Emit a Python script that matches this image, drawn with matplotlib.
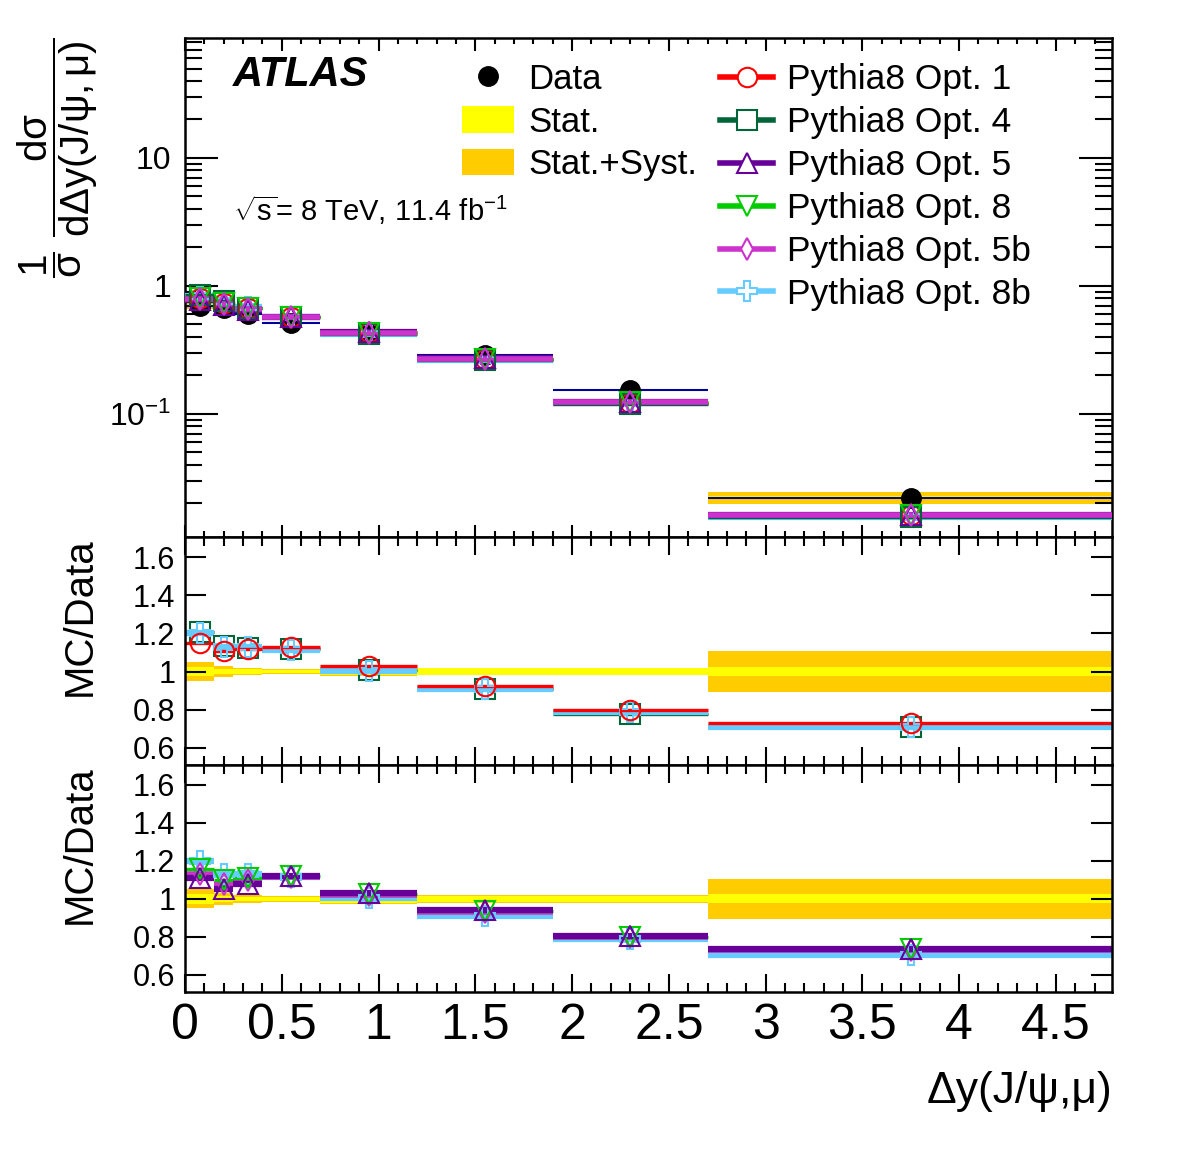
import numpy as np
import matplotlib
matplotlib.use("Agg")
import matplotlib.pyplot as plt
from matplotlib.lines import Line2D
from matplotlib.patches import Patch
from matplotlib.ticker import FixedLocator, FuncFormatter, NullFormatter, MultipleLocator

plt.rcParams['font.family'] = ['Liberation Sans', 'DejaVu Sans']
plt.rcParams['mathtext.fontset'] = 'custom'
plt.rcParams['mathtext.rm'] = 'Liberation Sans'
plt.rcParams['mathtext.it'] = 'Liberation Sans'
plt.rcParams['mathtext.sf'] = 'Liberation Sans'
plt.rcParams['mathtext.bf'] = 'Liberation Sans:bold'

# ---------------- data ----------------
edges = [0.0, 0.15, 0.25, 0.4, 0.7, 1.2, 1.9, 2.7, 4.8]
data = [0.70, 0.67, 0.60, 0.51, 0.42, 0.289, 0.154, 0.0221]
stat_rel = [0.025, 0.015, 0.012, 0.010, 0.020, 0.017, 0.017, 0.024]
tot_rel = [0.050, 0.030, 0.020, 0.015, 0.025, 0.020, 0.020, 0.105]

ratio_opt1 = [1.150, 1.105, 1.120, 1.130, 1.030, 0.926, 0.796, 0.728]
ratio_opt4 = [1.205, 1.135, 1.125, 1.120, 1.010, 0.910, 0.775, 0.710]
ratio_opt5 = [1.110, 1.050, 1.080, 1.120, 1.030, 0.940, 0.806, 0.737]
ratio_opt8 = [1.155, 1.100, 1.110, 1.120, 1.025, 0.935, 0.800, 0.735]
ratio_opt5b = [1.130, 1.080, 1.100, 1.115, 1.020, 0.930, 0.800, 0.730]
ratio_opt8b = [1.200, 1.130, 1.130, 1.115, 1.005, 0.910, 0.790, 0.707]

labels = ["Pythia8 Opt. 1", "Pythia8 Opt. 4", "Pythia8 Opt. 5",
          "Pythia8 Opt. 8", "Pythia8 Opt. 5b", "Pythia8 Opt. 8b"]

# ---------------- styles ----------------
C_RED = '#ff0000'
C_DGREEN = '#00663a'
C_PURPLE = '#660099'
C_GREEN = '#00cc00'
C_MAGENTA = '#cc33cc'
C_LBLUE = '#66ccff'
C_YELLOW = '#ffff00'
C_ORANGE = '#ffcc00'
C_NAVY = '#000099'

models = {
    "Pythia8 Opt. 1": dict(r=ratio_opt1, c=C_RED, m='o', ms=14, lw=2.4),
    "Pythia8 Opt. 4": dict(r=ratio_opt4, c=C_DGREEN, m='s', ms=14, lw=2.4),
    "Pythia8 Opt. 5": dict(r=ratio_opt5, c=C_PURPLE, m='^', ms=15, lw=4.5),
    "Pythia8 Opt. 8": dict(r=ratio_opt8, c=C_GREEN, m='v', ms=15, lw=2.4),
    "Pythia8 Opt. 5b": dict(r=ratio_opt5b, c=C_MAGENTA, m='d', ms=11, lw=4.0),
    "Pythia8 Opt. 8b": dict(r=ratio_opt8b, c=C_LBLUE, m='P', ms=14, lw=4.5),
}

edges_a = np.array(edges)
lo = edges_a[:-1]
hi = edges_a[1:]
widths = hi - lo
centers = 0.5 * (lo + hi)
data_a = np.array(data)
stat_a = np.array(stat_rel)
tot_a = np.array(tot_rel)

fig = plt.figure(figsize=(11.82, 11.53), dpi=100)
L, R = 185 / 1182, 1112 / 1182
def fy(p):
    return 1 - p / 1153
ax0 = fig.add_axes([L, fy(537), R - L, fy(38) - fy(537)])
ax1 = fig.add_axes([L, fy(765), R - L, fy(537) - fy(765)], sharex=ax0)
ax2 = fig.add_axes([L, fy(992), R - L, fy(765) - fy(992)], sharex=ax0)

# ---------------- top panel ----------------
ax0.set_yscale('log')
ax0.bar(lo, 2 * tot_a * data_a, width=widths, bottom=data_a * (1 - tot_a),
        align='edge', color=C_ORANGE, lw=0, zorder=1)
ax0.bar(lo, 2 * stat_a * data_a, width=widths, bottom=data_a * (1 - stat_a),
        align='edge', color=C_YELLOW, lw=0, zorder=1.1)
ax0.hlines(data_a, lo, hi, color=C_NAVY, lw=1.5, zorder=2)
ax0.errorbar(centers, data_a, yerr=data_a * stat_a, fmt='o', color='black',
             ms=14, elinewidth=1.5, capsize=0, zorder=3)

top_order = ["Pythia8 Opt. 8b", "Pythia8 Opt. 1", "Pythia8 Opt. 4",
             "Pythia8 Opt. 5", "Pythia8 Opt. 8", "Pythia8 Opt. 5b"]
for k, name in enumerate(top_order):
    st = models[name]
    mc = data_a * np.array(st['r'])
    ax0.hlines(mc, lo, hi, color=st['c'], lw=st['lw'], zorder=4 + k * 0.1)
for k, name in enumerate(top_order):
    st = models[name]
    mc = data_a * np.array(st['r'])
    ax0.plot(centers, mc, ls='none', marker=st['m'], ms=st['ms'], mfc='none',
             mec=st['c'], mew=1.5, zorder=5 + k * 0.1)

ax0.set_xlim(0, 4.79)
ax0.set_ylim(0.0109, 86.6)
ax0.yaxis.set_major_locator(FixedLocator([0.1, 1, 10]))
fmt_map = {0.1: r'$10^{-1}$', 1: '1', 10: '10'}
ax0.yaxis.set_major_formatter(FuncFormatter(lambda v, p: fmt_map.get(round(v, 3), '')))
ax0.yaxis.set_minor_locator(matplotlib.ticker.LogLocator(base=10, subs=np.arange(2, 10), numticks=20))
ax0.yaxis.set_minor_formatter(NullFormatter())
ax0.tick_params(axis='y', which='major', length=24, labelsize=23, pad=10)
ax0.tick_params(axis='y', which='minor', length=12)
ax0.tick_params(axis='x', which='major', length=9)
ax0.tick_params(axis='x', which='minor', length=4.5)
ax0.tick_params(axis='x', labelbottom=False)

ax0.set_ylabel(r'$\dfrac{1}{σ}\ \dfrac{dσ}{dΔy(J/ψ,μ)}$', fontsize=29, loc='top')
ax0.yaxis.set_label_coords(-0.092, 1.0)

ax0.text(0.052, 0.925, 'ATLAS', transform=ax0.transAxes, fontsize=30,
         fontweight='bold', fontstyle='italic', va='center', ha='left')
ax0.text(0.052, 0.655, r'$\sqrt{s}$= 8 TeV, 11.4 fb$^{-1}$', transform=ax0.transAxes,
         fontsize=21, va='center', ha='left')

h_data = [Line2D([], [], ls='none', marker='o', color='black', ms=14),
          Patch(facecolor=C_YELLOW, edgecolor='none'),
          Patch(facecolor=C_ORANGE, edgecolor='none')]
leg1 = ax0.legend(h_data, ['Data', 'Stat.', 'Stat.+Syst.'], loc='upper left',
                  bbox_to_anchor=(0.273, 0.999), frameon=False, fontsize=25,
                  handlelength=1.5, handleheight=0.8, handletextpad=0.4,
                  labelspacing=0.28, borderaxespad=0.3)
ax0.add_artist(leg1)
h_mc = []
for name in labels:
    st = models[name]
    h_mc.append(Line2D([], [], color=st['c'], lw=4.0, marker=st['m'],
                       ms=st['ms'], mfc='white', mec=st['c'], mew=1.5))
ax0.legend(h_mc, labels, loc='upper left', bbox_to_anchor=(0.5506, 0.999),
           frameon=False, fontsize=25.5, handlelength=1.5, handletextpad=0.4,
           labelspacing=0.28, borderaxespad=0.3)

# ---------------- ratio panels ----------------
def ratio_panel(ax, names):
    ax.bar(lo, 2 * tot_a, width=widths, bottom=1 - tot_a, align='edge',
           color=C_ORANGE, lw=0, zorder=1)
    ax.bar(lo, 2 * stat_a, width=widths, bottom=1 - stat_a, align='edge',
           color=C_YELLOW, lw=0, zorder=1.1)
    for k, name in enumerate(names):
        st = models[name]
        ax.hlines(st['r'], lo, hi, color=st['c'], lw=st['lw'], zorder=2 + 0.1 * k)
    for k, name in enumerate(names):
        st = models[name]
        ax.plot(centers, st['r'], ls='none', marker=st['m'], ms=st['ms'],
                mfc='none', mec=st['c'], mew=1.5, zorder=3 + 0.1 * k)
    ax.set_ylim(0.51, 1.705)
    ax.yaxis.set_major_locator(FixedLocator([0.6, 0.8, 1.0, 1.2, 1.4, 1.6]))
    ax.yaxis.set_major_formatter(FuncFormatter(lambda v, p: '%g' % round(v, 2)))
    ax.tick_params(axis='y', which='major', length=15, labelsize=22, pad=7)
    ax.tick_params(axis='x', which='major', length=13)
    ax.tick_params(axis='x', which='minor', length=6.5)
    ax.set_ylabel('MC/Data', fontsize=29, loc='top')
    ax.yaxis.set_label_coords(-0.093, 1.0)

ratio_panel(ax1, ["Pythia8 Opt. 4", "Pythia8 Opt. 8b", "Pythia8 Opt. 1"])
ratio_panel(ax2, ["Pythia8 Opt. 8b", "Pythia8 Opt. 5b", "Pythia8 Opt. 8", "Pythia8 Opt. 5"])
ax1.tick_params(axis='x', labelbottom=False)

for ax in (ax0, ax1, ax2):
    ax.xaxis.set_major_locator(MultipleLocator(0.5))
    ax.xaxis.set_minor_locator(MultipleLocator(0.1))
    ax.tick_params(which='both', direction='in', top=True, right=True, width=1.5)
    for s in ax.spines.values():
        s.set_linewidth(1.8)

ax2.xaxis.set_major_formatter(FuncFormatter(lambda v, p: '%g' % round(v, 2)))
ax2.tick_params(axis='x', labelsize=36, pad=8)
ax2.set_xlabel('Δy(J/ψ,μ)', fontsize=32, loc='right', labelpad=16)

fig.savefig('out.png', dpi=100)
